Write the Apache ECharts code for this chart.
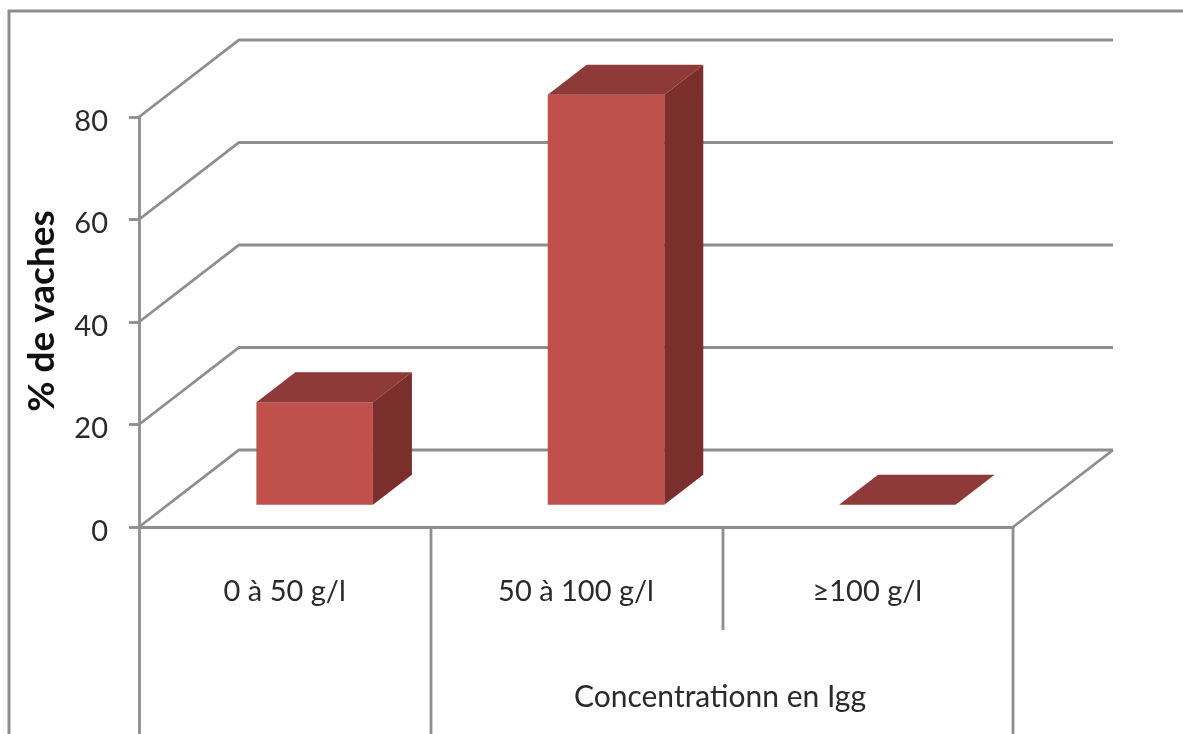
<!DOCTYPE html>
<html lang="fr">
<head>
<meta charset="utf-8">
<title>Concentration en Igg</title>
<style>
html, body { margin: 0; padding: 0; background: #fff; }
#main { width: 1183px; height: 734px; }
</style>
</head>
<body>
<div id="main"></div>
<script src="https://cdn.jsdelivr.net/npm/echarts@6/dist/echarts.min.js"></script>
<script>
var categories = ['0 à 50 g/l', '50 à 100 g/l', '≥100 g/l'];
var cowShare = [20, 80, 0];
var wallTicks = [0, 20, 40, 60, 80];
var yTitle = '% de vaches';
var xTitle = 'Concentrationn en Igg';

var lineColor = '#8e8e8e';
var lineSize = 2.8;
var textColor = '#2a2a2a';
var fontName = 'Lato, Carlito, sans-serif';
var depthX = 100, depthY = 77;     // vue 3D : decalage du mur du fond

var chart = echarts.init(document.getElementById('main'));

function renderWall(params, api) {
	var p = api.coord([0, api.value(0)]);
	var band = api.size([1, 0])[0];
	var x0 = p[0] - band / 2, y0 = p[1];
	return {
		type: 'polyline',
		shape: { points: [[x0, y0], [x0 + depthX, y0 - depthY], [x0 + band * 3 + depthX, y0 - depthY]] },
		style: { stroke: lineColor, lineWidth: lineSize, fill: null }
	};
}

function renderBar(params, api) {
	var base = api.coord([api.value(0), 0]);
	var top = api.coord([api.value(0), api.value(1)]);
	var band = api.size([1, 0])[0];
	var w = band * 0.4;
	// le pied de la barre est a 0.3 de la profondeur
	var dx = depthX * 0.3, dy = depthY * 0.29;
	var x1 = base[0] - w / 2 + dx, x2 = x1 + w;
	var yb = base[1] - dy, yt = top[1] - dy;
	var bx = depthX * 0.39, by = depthY * 0.39;
	var children = [];
	if (yb - yt > 0) {
		children.push({
			type: 'polygon',
			shape: { points: [[x2, yb], [x2, yt], [x2 + bx, yt - by], [x2 + bx, yb - by]] },
			style: { fill: '#7a2f2d' }
		});
		children.push({
			type: 'rect',
			shape: { x: x1, y: yt, width: w, height: yb - yt },
			style: { fill: '#bf504c' }
		});
	}
	children.push({
		type: 'polygon',
		shape: { points: [[x1, yt], [x2, yt], [x2 + bx, yt - by], [x1 + bx, yt - by]] },
		style: { fill: '#8d3a38' }
	});
	return { type: 'group', children: children };
}

function vline(x, y1, y2) {
	return {
		type: 'line',
		shape: { x1: x, y1: y1, x2: x, y2: y2 },
		style: { stroke: lineColor, lineWidth: lineSize },
		silent: true
	};
}

chart.setOption({
	animation: false,
	backgroundColor: '#fff',
	grid: { left: 139, right: 170, top: 117, bottom: 207 },
	xAxis: {
		type: 'category',
		data: categories,
		axisLine: { lineStyle: { color: lineColor, width: lineSize } },
		axisTick: { show: false },
		axisLabel: { color: textColor, fontFamily: fontName, fontSize: 29, margin: 50 },
		splitLine: { show: false }
	},
	yAxis: {
		type: 'value',
		min: 0,
		max: 80,
		interval: 20,
		name: yTitle,
		nameLocation: 'middle',
		nameGap: 78,
		nameTextStyle: { color: '#111', fontFamily: fontName, fontSize: 37, fontWeight: 'bold', padding: [0, 0, 0, 22] },
		axisLine: { show: true, lineStyle: { color: lineColor, width: lineSize } },
		axisTick: { show: true, length: 10, lineStyle: { color: lineColor, width: lineSize } },
		axisLabel: {
			margin: 31,
			formatter: '{a|{value}}',
			rich: { a: { color: textColor, fontFamily: fontName, fontSize: 29, padding: [9, 0, 0, 0] } }
		},
		splitLine: { show: false }
	},
	series: [
		{
			type: 'custom',
			clip: false,
			data: wallTicks,
			encode: { y: 0 },
			renderItem: renderWall,
			z: 1
		},
		{
			type: 'custom',
			clip: false,
			data: cowShare.map(function (v, i) { return [i, v]; }),
			encode: { x: 0, y: 1 },
			renderItem: renderBar,
			z: 3
		}
	],
	graphic: [
		vline(139.5, 527, 734),
		vline(431, 527, 734),
		vline(723, 527, 630),
		vline(1013, 527, 734),
		{
			type: 'line',
			shape: { x1: 1013, y1: 527, x2: 1113, y2: 450 },
			style: { stroke: lineColor, lineWidth: lineSize }
		},
		{
			type: 'polyline',
			shape: { points: [[9, 734], [9, 11], [1183, 11]] },
			style: { stroke: lineColor, lineWidth: 3, fill: null }
		},
		{
			type: 'text',
			x: 720,
			y: 697,
			style: { text: xTitle, fill: textColor, font: '30px ' + fontName, textAlign: 'center', textVerticalAlign: 'middle' }
		}
	]
});
</script>
</body>
</html>
